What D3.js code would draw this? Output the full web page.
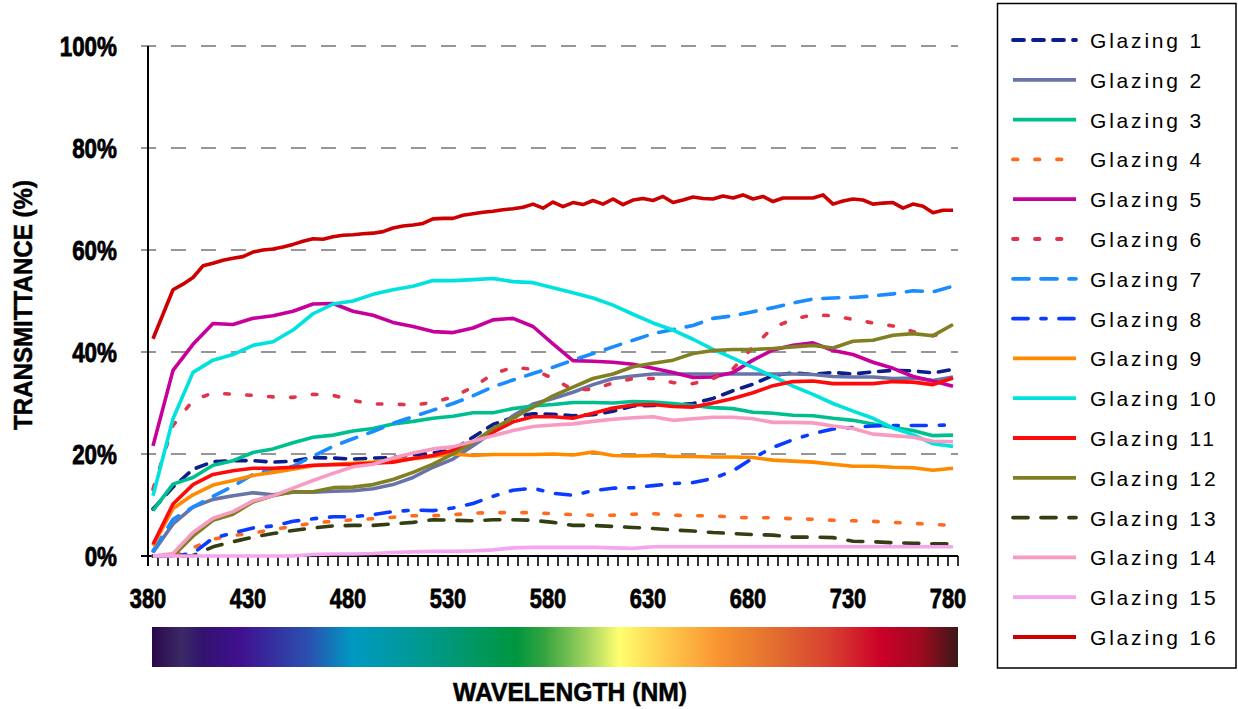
<!DOCTYPE html>
<html>
<head>
<meta charset="utf-8">
<script src="https://cdn.jsdelivr.net/npm/d3@7"></script>
<style>
  html, body { margin: 0; padding: 0; background: #fff; }
  svg { display: block; }
</style>
</head>
<body>
<svg id="chart" width="1238" height="709"></svg>
<script>
// ---- Measured transmittance (%) ----
const wavelengths = [380,390,400,410,420,430,440,450,460,470,480,490,500,510,520,530,540,550,560,570,580,
                     590,600,610,620,630,640,650,660,670,680,690,700,710,720,730,740,750,760,770,780];
const wavelengthsFine = [380,385,390,395,400,405,410,415,420,425,430,435,440,445,450,455,460,465,470,475,
                         480,485,490,495,500,505,510,515,520,525,530,535,540,545,550,555,560,565,570,575,
                         580,585,590,595,600,605,610,615,620,625,630,635,640,645,650,655,660,665,670,675,
                         680,685,690,695,700,705,710,715,720,725,730,735,740,745,750,755,760,765,770,775,780];

const glazing1  = [9.2,13.5,17.0,18.5,18.7,18.7,18.4,18.6,19.3,19.2,19.0,19.2,19.3,19.8,20.2,20.8,23.3,25.8,27.2,27.9,27.8,
                   27.5,27.7,28.4,29.4,29.5,29.6,29.9,30.9,32.4,33.7,35.4,35.9,35.6,36.0,35.7,36.1,36.4,36.3,35.9,36.6];
const glazing2  = [0.7,6.3,9.6,11.1,11.8,12.4,12.0,12.5,12.5,12.7,12.8,13.2,14.0,15.4,17.4,19.0,21.6,24.3,27.5,29.8,30.9,
                   32.1,33.6,34.8,35.3,35.7,35.7,35.7,35.7,35.7,35.7,35.7,35.7,35.6,35.2,35.1,35.1,34.8,34.9,34.4,35.1];
const glazing3  = [8.9,14.1,15.4,17.8,18.7,20.3,21.0,22.2,23.3,23.7,24.5,25.0,25.9,26.4,27.0,27.4,28.1,28.1,28.9,29.4,29.7,
                   30.1,30.1,30.0,30.3,30.2,29.9,29.5,29.1,28.9,28.2,28.0,27.6,27.5,27.0,26.6,25.9,25.2,24.6,23.6,23.7];
const glazing4  = [0,0,1.6,3.3,4.0,4.5,5.2,5.8,6.5,6.8,7.1,7.3,7.6,7.9,7.9,8.1,8.4,8.5,8.5,8.5,8.3,
                   8.1,8.0,8.0,8.2,8.3,8.0,7.9,7.9,7.6,7.5,7.5,7.3,7.2,7.0,6.9,6.8,6.6,6.4,6.2,6.0];
const glazing5  = [21.6,36.4,41.5,45.6,45.4,46.6,47.1,48.0,49.4,49.5,48.0,47.2,45.8,45.0,44.0,43.8,44.7,46.3,46.6,45.0,41.6,
                   38.3,38.2,38.0,37.6,36.8,36.0,35.0,35.1,36.0,38.4,40.4,41.3,41.8,40.3,39.5,38.0,36.8,35.2,34.3,33.3];
const glazing6  = [13.1,25.6,30.5,32.0,31.7,31.5,31.2,31.1,31.7,31.5,30.5,29.8,29.8,29.6,30.1,31.2,33.1,35.7,37.0,36.6,34.8,
                   32.6,32.7,33.9,34.8,34.8,34.0,33.8,34.8,36.7,41.0,44.8,46.4,47.3,47.1,46.4,45.7,45.1,44.0,43.2,44.0];
const glazing7  = [1.0,7.2,9.6,11.7,13.7,16.0,17.0,17.6,19.6,21.5,23.0,24.4,26.0,27.3,28.6,29.9,31.4,33.2,34.5,35.8,37.0,
                   38.4,39.7,41.0,42.3,43.6,44.4,45.2,46.6,47.1,47.9,48.7,49.6,50.4,50.6,50.7,51.0,51.4,52.0,51.8,52.9];
const glazing8  = [0,0,0.5,3.5,4.5,5.5,5.9,6.8,7.3,7.7,7.7,8.1,8.7,9.0,8.9,9.4,10.3,11.7,12.9,13.3,12.3,
                   11.9,12.8,13.3,13.4,13.8,14.2,14.4,15.2,16.7,19.2,21.3,22.8,24.0,24.9,25.2,25.5,25.6,25.6,25.6,25.7];
const glazing9  = [2.0,9.3,12.0,13.9,14.8,15.8,16.4,17.0,17.7,18.0,18.2,18.4,18.7,19.1,19.5,20.0,19.7,19.9,19.9,19.9,20.0,
                   19.8,20.4,19.7,19.6,19.7,19.5,19.5,19.4,19.4,19.3,18.8,18.6,18.4,18.0,17.6,17.6,17.4,17.3,16.8,17.2];
const glazing10 = [11.8,26.9,36.0,38.4,39.5,41.3,42.0,44.3,47.5,49.4,50.0,51.3,52.2,52.9,54.0,54.0,54.2,54.4,53.8,53.6,52.6,
                   51.6,50.6,49.2,47.4,45.7,44.3,42.5,40.5,38.8,37.0,35.2,33.3,31.7,29.9,28.4,27.0,25.1,23.8,22.0,21.5];
const glazing11 = [2.3,10.2,14.0,16.0,16.7,17.2,17.2,17.4,17.8,17.9,18.0,18.2,18.4,19.1,19.7,20.7,22.4,24.3,26.3,27.3,27.3,
                   27.0,28.0,29.0,29.6,29.7,29.3,29.2,30.0,30.9,32.0,33.4,34.2,34.3,33.8,33.8,33.8,34.2,34.1,33.6,34.9];
const glazing12 = [0,0,3.9,7.0,8.2,10.6,11.8,12.6,12.6,13.4,13.5,14.0,15.0,16.4,18.0,20.0,22.2,25.0,27.0,29.2,31.4,
                   33.1,34.8,35.7,37.1,37.8,38.4,39.7,40.3,40.5,40.5,40.7,41.0,41.3,40.8,42.1,42.3,43.3,43.6,43.2,45.4];
const glazing13 = [0,0,0.1,1.8,2.8,3.7,4.4,5.0,5.5,5.9,6.0,6.0,6.3,6.6,7.1,7.0,6.9,7.1,7.1,7.0,6.6,
                   6.0,6.0,5.8,5.6,5.4,5.1,4.9,4.6,4.4,4.2,4.1,3.7,3.7,3.6,2.9,2.8,2.6,2.5,2.4,2.4];
const glazing14 = [0,0.5,4.6,7.4,8.7,10.8,11.8,13.3,14.8,16.2,17.5,18.0,19.2,20.2,21.0,21.4,22.5,23.6,24.6,25.4,25.7,
                   25.9,26.4,26.8,27.1,27.3,26.6,26.9,27.2,27.2,26.9,26.2,26.2,26.1,25.5,25.0,23.9,23.6,23.3,22.5,22.4];
const glazing15 = [0,0,0,0,0,0,0,0,0.3,0.4,0.4,0.5,0.7,0.8,0.9,0.9,1.0,1.2,1.6,1.7,1.7,
                   1.7,1.7,1.6,1.5,1.8,1.8,1.8,1.8,1.8,1.8,1.8,1.8,1.8,1.8,1.8,1.8,1.8,1.8,1.8,1.8];
const glazing16 = [42.6,47.4,52.2,53.3,54.6,56.9,57.4,58.0,58.4,58.7,59.6,60.0,60.2,60.6,61.1,61.7,62.2,62.1,62.6,62.9,
                   63.0,63.2,63.3,63.6,64.3,64.7,64.9,65.2,66.1,66.2,66.2,66.8,67.1,67.4,67.6,67.9,68.1,68.4,69.0,68.2,
                   69.4,68.5,69.3,68.9,69.7,69.0,70.0,68.9,69.8,70.1,69.7,70.5,69.3,69.8,70.4,70.1,70.0,70.6,70.2,70.8,
                   70.0,70.5,69.5,70.2,70.2,70.2,70.2,70.8,69.0,69.6,70.0,69.8,69.0,69.2,69.3,68.2,69.0,68.6,67.3,67.8,67.8];

const seriesNames = ["Glazing 1","Glazing 2","Glazing 3","Glazing 4","Glazing 5","Glazing 6","Glazing 7","Glazing 8",
                     "Glazing 9","Glazing 10","Glazing 11","Glazing 12","Glazing 13","Glazing 14","Glazing 15","Glazing 16"];
const seriesValues = [glazing1,glazing2,glazing3,glazing4,glazing5,glazing6,glazing7,glazing8,
                      glazing9,glazing10,glazing11,glazing12,glazing13,glazing14,glazing15,glazing16];
const seriesWavelengths = seriesValues.map((v, i) => i === 15 ? wavelengthsFine : wavelengths);

// ---- Axis text ----
const xTickLabels = [380,430,480,530,580,630,680,730,780];
const yTickValues = [0,20,40,60,80,100];
const xTitle = "WAVELENGTH (NM)";
const yTitle = "TRANSMITTANCE (%)";

// ---- Styles ----
const seriesColors = ["#0c1e8c","#6873a8","#00bf8f","#ff6a1f","#c8009b","#e0344a","#1a8cff","#0a3cff",
                      "#ff8a00","#00e2de","#ff0a0a","#808022","#333f12","#f79bc2","#f5a5f0","#cc0000"];
const seriesDashes = ["11,9",null,null,"4.5,17.5",null,"4.5,17.5","16,12","15,13,5,13",
                      null,null,null,null,"15,13",null,null,null];
// visible-spectrum strip under the axis: [wavelength, colour]
const spectrumStops = [[379.5,"#2a0848"],[394.5,"#3a2a66"],[405,"#32126e"],[423.5,"#40108f"],[458.5,"#2a52b0"],
                       [479.5,"#0099c2"],[518.5,"#00998a"],[561.5,"#00963e"],[576,"#36a440"],[598.5,"#aad862"],
                       [613,"#ffff70"],[633.5,"#ffd050"],[662,"#f99530"],[693.5,"#e06a30"],[718.5,"#d84030"],
                       [744,"#cc0028"],[763.5,"#a00a20"],[782.5,"#3a1818"]];

const svg = d3.select("#chart");
const plot = { left: 148, right: 958, top: 46, bottom: 556 };

// category axis: one 5-nm band per category, values sit in the middle of their band
const categories = d3.range(380, 781, 5);
const xBand = d3.scaleBand().domain(categories).range([plot.left, plot.right]).paddingInner(0).paddingOuter(0);
const xPos = nm => xBand(nm) + xBand.bandwidth() / 2;
const y = d3.scaleLinear().domain([0, 100]).range([plot.bottom, plot.top]);

const boldFont = "'Liberation Sans', Arial, Helvetica, sans-serif";

function squeeze(sel, factor) {
  sel.each(function () {
    const w = this.getComputedTextLength();
    d3.select(this).attr("textLength", w * factor).attr("lengthAdjust", "spacingAndGlyphs");
  });
}

// ---- Gridlines ----
svg.append("g").selectAll("line")
  .data(yTickValues.filter(v => v > 0))
  .join("line")
  .attr("x1", plot.left - 7).attr("x2", plot.right)
  .attr("y1", d => y(d)).attr("y2", d => y(d))
  .attr("stroke", "#969696").attr("stroke-width", 2)
  .attr("stroke-dasharray", "15,15");

// ---- Y axis ----
svg.append("line")
  .attr("x1", plot.left).attr("x2", plot.left)
  .attr("y1", y(100)).attr("y2", plot.bottom + 10)
  .attr("stroke", "#000").attr("stroke-width", 2);

const yLabels = svg.append("g").selectAll("text")
  .data(yTickValues)
  .join("text")
  .attr("x", 117).attr("y", d => y(d) + 10)
  .attr("text-anchor", "end")
  .attr("font-family", boldFont).attr("font-weight", "bold").attr("font-size", 28)
  .attr("fill", "#000").attr("stroke", "#000").attr("stroke-width", 0.8)
  .text(d => d + "%");
squeeze(yLabels, 0.8);

// ---- X axis ----
svg.append("line")
  .attr("x1", plot.left - 7).attr("x2", plot.right)
  .attr("y1", plot.bottom).attr("y2", plot.bottom)
  .attr("stroke", "#000").attr("stroke-width", 2);

svg.append("g").selectAll("line")
  .data(categories.concat([null]))
  .join("line")
  .attr("x1", d => d === null ? plot.right : xBand(d))
  .attr("x2", d => d === null ? plot.right : xBand(d))
  .attr("y1", plot.bottom).attr("y2", plot.bottom + 10)
  .attr("stroke", "#000").attr("stroke-width", 1.6);

const xLabels = svg.append("g").selectAll("text")
  .data(xTickLabels)
  .join("text")
  .attr("x", d => xBand(d)).attr("y", 608)
  .attr("text-anchor", "middle")
  .attr("font-family", boldFont).attr("font-weight", "bold").attr("font-size", 28)
  .attr("fill", "#000").attr("stroke", "#000").attr("stroke-width", 0.8)
  .text(d => d);
squeeze(xLabels, 0.78);

// ---- Spectrum strip ----
const xNm = d3.scaleLinear().domain([377.5, 782.5]).range([plot.left, plot.right]);
const defs = svg.append("defs");
const s0 = xNm(spectrumStops[0][0]), s1 = xNm(spectrumStops[spectrumStops.length - 1][0]);
const grad = defs.append("linearGradient").attr("id", "spectrum")
  .attr("gradientUnits", "userSpaceOnUse")
  .attr("x1", s0).attr("x2", s1).attr("y1", 0).attr("y2", 0);
grad.selectAll("stop").data(spectrumStops).join("stop")
  .attr("offset", d => (xNm(d[0]) - s0) / (s1 - s0))
  .attr("stop-color", d => d[1]);
svg.append("rect")
  .attr("x", s0).attr("y", 627)
  .attr("width", s1 - s0).attr("height", 40)
  .attr("fill", "url(#spectrum)");

// ---- Axis titles ----
svg.append("text")
  .attr("x", 570).attr("y", 701)
  .attr("text-anchor", "middle")
  .attr("font-family", boldFont).attr("font-weight", "bold").attr("font-size", 25)
  .attr("fill", "#000").attr("stroke", "#000").attr("stroke-width", 0.5)
  .attr("textLength", 234).attr("lengthAdjust", "spacingAndGlyphs")
  .text(xTitle);

svg.append("text")
  .attr("transform", "translate(32,305) rotate(-90)")
  .attr("text-anchor", "middle")
  .attr("font-family", boldFont).attr("font-weight", "bold").attr("font-size", 26)
  .attr("fill", "#000").attr("stroke", "#000").attr("stroke-width", 0.5)
  .attr("textLength", 250).attr("lengthAdjust", "spacingAndGlyphs")
  .text(yTitle);

// ---- Series ----
const line = d3.line().x(d => xPos(d[0])).y(d => y(d[1])).curve(d3.curveLinear);
const series = seriesNames.map((name, i) => ({
  name, color: seriesColors[i], dash: seriesDashes[i],
  points: seriesWavelengths[i].map((nm, k) => [nm, seriesValues[i][k]])
}));

svg.append("g").selectAll("path")
  .data(series)
  .join("path")
  .attr("d", d => line(d.points))
  .attr("fill", "none")
  .attr("stroke", d => d.color)
  .attr("stroke-width", 3.6)
  .attr("stroke-linejoin", "round")
  .attr("stroke-linecap", d => d.dash ? "round" : "butt")
  .attr("stroke-dasharray", d => d.dash);

// ---- Legend ----
const legend = svg.append("g");
legend.append("rect")
  .attr("x", 997.5).attr("y", 3.5).attr("width", 238.5).attr("height", 664.5)
  .attr("fill", "#fff").attr("stroke", "#000").attr("stroke-width", 1.5);

const rowY = d3.scalePoint().domain(seriesNames).range([40, 637]);
const rows = legend.selectAll("g.row").data(series).join("g").attr("class", "row")
  .attr("transform", d => `translate(0,${rowY(d.name)})`);
rows.append("line")
  .attr("x1", 1013).attr("x2", 1076).attr("y1", 0).attr("y2", 0)
  .attr("stroke", d => d.color).attr("stroke-width", 3.8)
  .attr("stroke-linecap", d => d.dash ? "round" : "butt")
  .attr("stroke-dasharray", d => d.dash);
rows.append("text")
  .attr("x", 1090).attr("y", 8)
  .attr("font-family", "'Liberation Sans', Arial, Helvetica, sans-serif")
  .attr("font-size", 21).attr("letter-spacing", 2.8)
  .attr("fill", "#000")
  .text(d => d.name);
</script>
</body>
</html>
